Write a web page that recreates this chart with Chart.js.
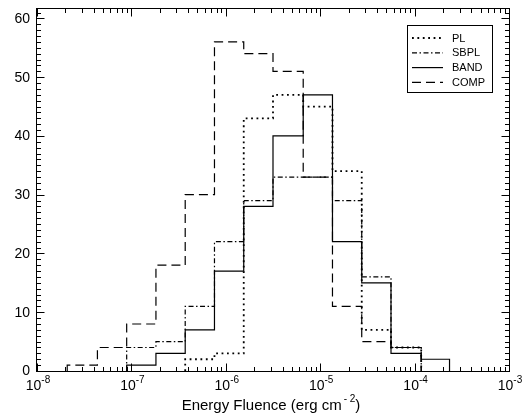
<!DOCTYPE html>
<html>
<head>
<meta charset="utf-8">
<title>Energy fluence histograms</title>
<script src="https://cdn.jsdelivr.net/npm/chart.js@4.4.1/dist/chart.umd.min.js"></script>
<style>
  html,body{margin:0;padding:0;background:#fff;}
  #chart{display:block;}
</style>
</head>
<body>
<canvas id="chart" width="528" height="419"></canvas>
<script>
/* histogram bins: log10 of the bin edges */
const binEdges   = [-7.68, -7.36, -7.05, -6.74, -6.43, -6.12, -5.81, -5.50, -5.18, -4.87, -4.56, -4.25, -3.93, -3.63];
/* counts per bin for each spectral model */
const plCounts   = [0, 0, 0, 0, 2, 3, 43, 47, 45, 34, 7, 4, 0];
const sbplCounts = [0, 0, 4, 5, 11, 22, 29, 33, 33, 29, 16, 4, 0];
const bandCounts = [0, 0, 1, 3, 7, 17, 28, 40, 47, 22, 15, 3, 2];
const compCounts = [1, 4, 8, 18, 30, 56, 54, 51, 33, 11, 5, 4, 0];
const seriesNames = ['PL', 'SBPL', 'BAND', 'COMP'];
/* axis labels */
const xTickExps = [-8, -7, -6, -5, -4, -3];
const yTicks = [0, 10, 20, 30, 40, 50, 60];
const xTitle = 'Energy Fluence (erg cm';
const xTitleSup = '- 2';

const FONT = '"Liberation Sans", Arial, Helvetica, sans-serif';

/* turn bin counts into outline points (stepped line) */
function stepPoints(counts){
  let a = counts.findIndex(v => v > 0), b = counts.length - 1;
  while(b > 0 && counts[b] === 0) b--;
  const pts = [{x: Math.pow(10, binEdges[a]), y: 0}];
  for(let i = a; i <= b; i++) pts.push({x: Math.pow(10, binEdges[i]), y: counts[i]});
  pts.push({x: Math.pow(10, binEdges[b + 1]), y: 0});
  return pts;
}

function histSet(label, counts, dash, width){
  return {
    label, data: stepPoints(counts), showLine: true, stepped: true,
    borderColor: '#000', borderWidth: width || 1.2, borderDash: dash,
    pointRadius: 0, fill: false
  };
}

/* frame with inward ticks on all sides, tick labels, title, legend box */
const framePlugin = {
  id: 'frame',
  afterDatasetsDraw(chart){
    const {ctx, chartArea: a, scales: {x, y}} = chart;
    ctx.save();
    ctx.strokeStyle = '#000';
    ctx.fillStyle = '#000';
    ctx.lineWidth = 1;
    const L = a.left - 0.5, R = a.right + 0.5, T = a.top - 0.5, B = a.bottom + 0.5;
    ctx.setLineDash([]);
    ctx.strokeRect(L, T, R - L, B - T);

    ctx.beginPath();
    // x ticks (log): major at decades, minor at 2..9
    for(let e = xTickExps[0]; e <= xTickExps[xTickExps.length - 1]; e++){
      for(let k = 1; k <= 9; k++){
        if(e === xTickExps[xTickExps.length - 1] && k > 1) break;
        const px = Math.round(x.getPixelForValue(k * Math.pow(10, e))) + 0.5;
        const len = k === 1 ? 8 : 4.5;
        ctx.moveTo(px, B); ctx.lineTo(px, B - len);
        ctx.moveTo(px, T); ctx.lineTo(px, T + len);
      }
    }
    // y ticks: major every 10, minor every 1
    for(let v = 0; v <= y.max; v++){
      const py = Math.round(y.getPixelForValue(v)) + 0.5;
      const len = v % 10 === 0 ? 8 : 4.5;
      ctx.moveTo(L, py); ctx.lineTo(L + len, py);
      ctx.moveTo(R, py); ctx.lineTo(R - len, py);
    }
    ctx.stroke();

    // y labels
    ctx.font = '14px ' + FONT;
    ctx.textAlign = 'right';
    ctx.textBaseline = 'middle';
    yTicks.forEach(v => ctx.fillText(String(v), a.left - 7, y.getPixelForValue(v) + 0.5));

    // x labels 10^n
    ctx.textAlign = 'left';
    ctx.textBaseline = 'alphabetic';
    xTickExps.forEach(e => {
      const px = x.getPixelForValue(Math.pow(10, e));
      ctx.font = '14px ' + FONT;
      const wb = ctx.measureText('10').width;
      ctx.font = '10px ' + FONT;
      const sup = String(e);
      const ws = ctx.measureText(sup).width;
      const x0 = px - (wb + ws) / 2 + 1;
      ctx.font = '14px ' + FONT;
      ctx.fillText('10', x0, 390);
      ctx.font = '10px ' + FONT;
      ctx.fillText(sup, x0 + wb, 383);
    });

    // x title with superscript
    ctx.font = '15px ' + FONT;
    const w1 = ctx.measureText(xTitle).width;
    const w3 = ctx.measureText(')').width;
    ctx.font = '10px ' + FONT;
    const w2 = ctx.measureText(xTitleSup).width + 2;
    let tx = (a.left + a.right) / 2 - (w1 + w2 + w3) / 2 - 2;
    ctx.font = '15px ' + FONT;
    ctx.fillText(xTitle, tx, 410);
    ctx.font = '10px ' + FONT;
    ctx.fillText(xTitleSup, tx + w1 + 2, 402);
    ctx.font = '15px ' + FONT;
    ctx.fillText(')', tx + w1 + w2, 410);

    // legend box
    const bx = 407.5, by = 25.5, bw = 85, bh = 67;
    ctx.strokeRect(bx, by, bw, bh);
    ctx.font = '11px ' + FONT;
    ctx.textBaseline = 'middle';
    chart.data.datasets.forEach((ds, i) => {
      const ry = 38 + i * 14.8;
      ctx.beginPath();
      ctx.lineWidth = ds.borderWidth;
      ctx.setLineDash(ds.borderDash || []);
      ctx.moveTo(412, ry); ctx.lineTo(443, ry);
      ctx.stroke();
      ctx.fillText(ds.label, 452, ry + 0.5);
    });
    ctx.restore();
  }
};

new Chart(document.getElementById('chart'), {
  type: 'scatter',
  data: {
    datasets: [
      histSet(seriesNames[0], plCounts, [1.8, 3.6], 1.8),
      histSet(seriesNames[1], sbplCounts, [5, 2.5, 1.5, 2.5]),
      histSet(seriesNames[2], bandCounts, []),
      histSet(seriesNames[3], compCounts, [9, 5])
    ]
  },
  options: {
    responsive: false,
    animation: false,
    devicePixelRatio: 1,
    layout: {padding: {left: 37, right: 19, top: 9, bottom: 48}},
    plugins: {legend: {display: false}, tooltip: {enabled: false}},
    scales: {
      x: {type: 'logarithmic', min: 1e-8, max: 1e-3, display: false},
      y: {type: 'linear', min: 0, max: 61.6, display: false}
    }
  },
  plugins: [framePlugin]
});
</script>
</body>
</html>
